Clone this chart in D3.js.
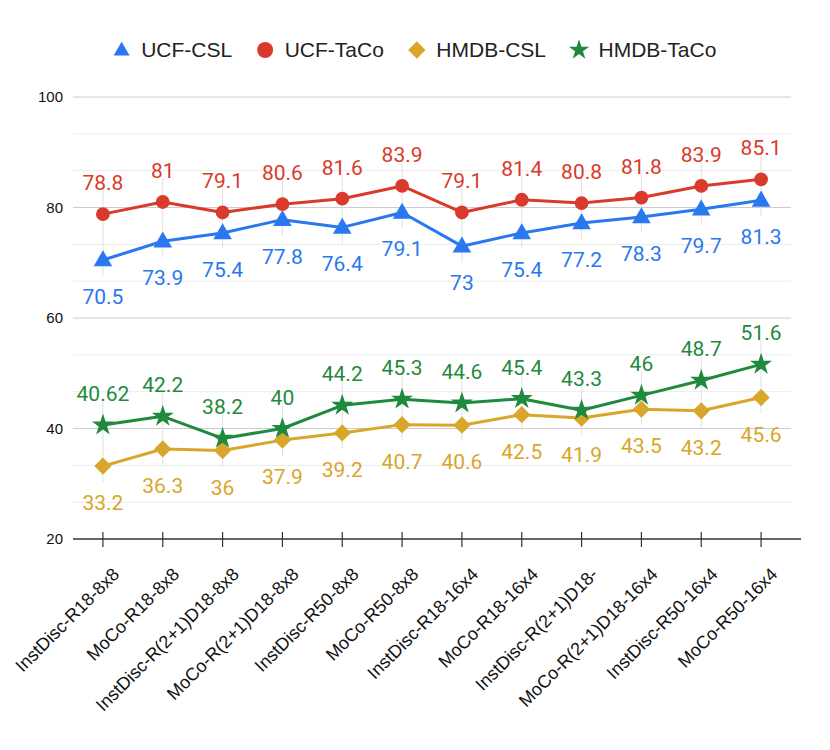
<!DOCTYPE html>
<html><head><meta charset="utf-8">
<script src="https://cdn.jsdelivr.net/npm/d3@7"></script>
<style>body{margin:0;background:#fff}svg{display:block}</style>
</head><body>
<svg id="chart" width="830" height="750"></svg>
<script>
const categories = ["InstDisc-R18-8x8","MoCo-R18-8x8","InstDisc-R(2+1)D18-8x8","MoCo-R(2+1)D18-8x8","InstDisc-R50-8x8","MoCo-R50-8x8","InstDisc-R18-16x4","MoCo-R18-16x4","InstDisc-R(2+1)D18-","MoCo-R(2+1)D18-16x4","InstDisc-R50-16x4","MoCo-R50-16x4"];
const ucfCSL   = [70.5, 73.9, 75.4, 77.8, 76.4, 79.1, 73, 75.4, 77.2, 78.3, 79.7, 81.3];
const ucfTaCo  = [78.8, 81, 79.1, 80.6, 81.6, 83.9, 79.1, 81.4, 80.8, 81.8, 83.9, 85.1];
const hmdbCSL  = [33.2, 36.3, 36, 37.9, 39.2, 40.7, 40.6, 42.5, 41.9, 43.5, 43.2, 45.6];
const hmdbTaCo = [40.62, 42.2, 38.2, 40, 44.2, 45.3, 44.6, 45.4, 43.3, 46, 48.7, 51.6];
const yTicks = [20, 40, 60, 80, 100];
const seriesNames = ["UCF-CSL","UCF-TaCo","HMDB-CSL","HMDB-TaCo"];

(function(){
const series = [
  {name: seriesNames[0], values: ucfCSL,   color: "#2a78f0", symbol: d3.symbolTriangle, size: 150, lsize: 110, pos: "below"},
  {name: seriesNames[1], values: ucfTaCo,  color: "#d93a2c", symbol: d3.symbolCircle,   size: 150, lsize: 200, pos: "above"},
  {name: seriesNames[2], values: hmdbCSL,  color: "#d8a62a", symbol: d3.symbolDiamond2, size: 190, lsize: 190, pos: "below"},
  {name: seriesNames[3], values: hmdbTaCo, color: "#1f8a3d", symbol: d3.symbolStar,     size: 150, lsize: 130, pos: "above"}
];

const svg = d3.select("#chart");
const mLeft = 73, mRight = 791, mTop = 97, mBottom = 539;

const x = d3.scalePoint().domain(categories).range([mLeft, mRight]).padding(0.5);
const y = d3.scaleLinear().domain([20, 100]).range([mBottom, mTop]);

const minor = [];
for (let i = 0; i < yTicks.length - 1; i++) {
  const a = yTicks[i], b = yTicks[i+1];
  minor.push(a + (b - a) / 3, a + 2 * (b - a) / 3);
}
svg.append("g").selectAll("line").data(minor).join("line")
  .attr("x1", mLeft).attr("x2", mRight)
  .attr("y1", d => y(d)).attr("y2", d => y(d))
  .attr("stroke", "#ebebeb").attr("stroke-width", 1);
svg.append("g").selectAll("line").data(yTicks.filter(d => d !== 20)).join("line")
  .attr("x1", mLeft).attr("x2", mRight)
  .attr("y1", d => y(d)).attr("y2", d => y(d))
  .attr("stroke", "#cccccc").attr("stroke-width", 1);

svg.append("g").selectAll("text").data(yTicks).join("text")
  .attr("x", 63).attr("y", d => y(d)).attr("dy", "0.35em")
  .attr("text-anchor", "end")
  .attr("font-family", "Liberation Sans, Arial, sans-serif").attr("font-size", 15)
  .attr("fill", "#111").text(d => d);

const pairs = [[ucfTaCo, ucfCSL], [hmdbTaCo, hmdbCSL]];
pairs.forEach(([hi, lo]) => {
  svg.append("g").selectAll("line").data(categories).join("line")
    .attr("x1", d => x(d)).attr("x2", d => x(d))
    .attr("y1", (d, i) => y(hi[i]) - 24)
    .attr("y2", (d, i) => y(lo[i]) + 16)
    .attr("stroke", "#e0e0e0").attr("stroke-width", 1);
});

svg.append("line").attr("x1", mLeft).attr("x2", mRight + 10)
  .attr("y1", mBottom).attr("y2", mBottom)
  .attr("stroke", "#333").attr("stroke-width", 1.5);
svg.append("g").selectAll("line").data(categories).join("line")
  .attr("x1", d => x(d)).attr("x2", d => x(d))
  .attr("y1", mBottom - 7).attr("y2", mBottom + 8)
  .attr("stroke", "#333").attr("stroke-width", 1.2);
svg.append("g").selectAll("text").data(categories).join("text")
  .attr("transform", d => `translate(${x(d) + 13},${mBottom + 32}) rotate(-45)`)
  .attr("text-anchor", "end").attr("dy", "0.35em")
  .attr("font-family", "Liberation Sans, Arial, sans-serif").attr("font-size", 18)
  .attr("fill", "#111").text(d => d);

const line = d3.line().x((d, i) => x(categories[i])).y(d => y(d));
series.forEach(s => {
  svg.append("path").datum(s.values).attr("d", line)
    .attr("fill", "none").attr("stroke", s.color).attr("stroke-width", 3)
    .attr("stroke-linejoin", "round");
});
series.forEach(s => {
  svg.append("g").selectAll("path").data(s.values).join("path")
    .attr("d", d3.symbol().type(s.symbol).size(s.size))
    .attr("transform", (d, i) => `translate(${x(categories[i])},${y(d) + (s.symbol === d3.symbolTriangle ? 1 : 0)})`)
    .attr("fill", s.color);
});
series.forEach(s => {
  svg.append("g").selectAll("text").data(s.values).join("text")
    .attr("x", (d, i) => x(categories[i]))
    .attr("y", d => s.pos === "above" ? y(d) - 24 : y(d) + 44)
    .attr("text-anchor", "middle")
    .attr("font-family", "Roboto, sans-serif").attr("font-size", 21)
    .attr("fill", s.color).text(d => String(d));
});

const lg = svg.append("g");
let cx = 0;
series.forEach((s, i) => {
  const g = lg.append("g");
  g.append("path").attr("d", d3.symbol().type(s.symbol).size(s.lsize))
    .attr("transform", `translate(0,${s.symbol === d3.symbolTriangle ? 1 : 0})`)
    .attr("fill", s.color);
  const t = g.append("text").attr("x", 19.5).attr("dy", "0.35em")
    .attr("font-family", "Liberation Sans, Arial, sans-serif").attr("font-size", 21)
    .attr("fill", "#222").text(s.name);
  const w = t.node().getComputedTextLength();
  g.attr("transform", `translate(${cx},0)`);
  cx += 19.5 + w + 33;
});
const total = cx - 33 + 8;
lg.attr("transform", `translate(${415 - total / 2 + 8},50)`);
})();
</script>
</body></html>
